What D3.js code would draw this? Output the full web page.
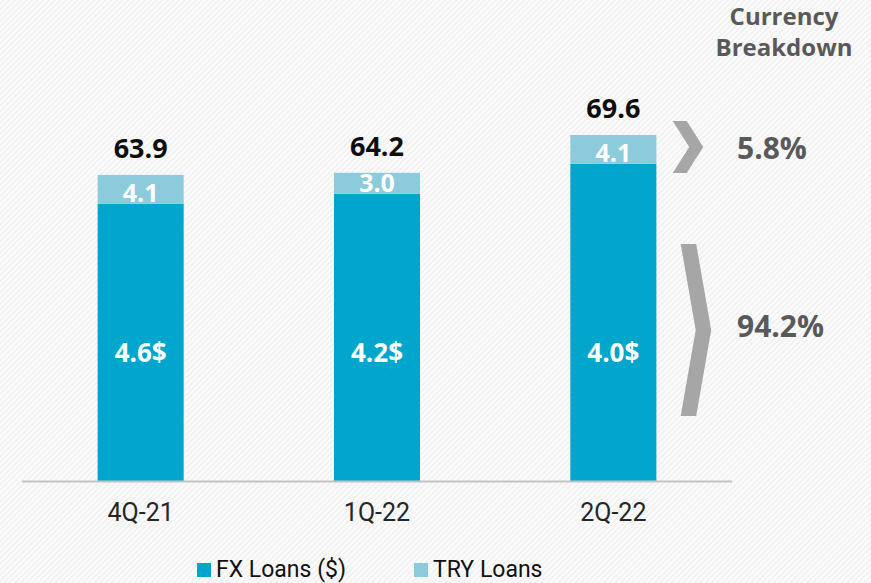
<!DOCTYPE html>
<html>

<head>
  <script src="https://d3js.org/d3.v7.min.js"></script>

  <style>
    body {
      margin: 0;
      background-color: #f3f3f3;
    }

    .num {
      font-family: "Open Sans", sans-serif;
      font-weight: 700;
    }

    .cat, .legend-text {
      font-family: Roboto, "Liberation Sans", sans-serif;
      font-weight: 400;
    }
  </style>

</head>

<body>
  <svg id="chart" width="871" height="583"></svg>

  <script>
    // chart data
    const quarters = ['4Q-21', '1Q-22', '2Q-22'];
    const fxLoans = [59.8, 61.2, 65.5];
    const tryLoans = [4.1, 3.0, 4.1];
    const totals = [63.9, 64.2, 69.6];
    const fxLabels = ['4.6$', '4.2$', '4.0$'];
    const breakdownLabels = ['5.8%', '94.2%'];
    const legendNames = ['FX Loans ($)', 'TRY Loans'];

    const width = 871, height = 583;
    const fxColor = '#02a6cd';
    const tryColor = '#8ccbdc';
    const greyText = '#595959';
    const chevronColor = '#a6a6a6';

    const svg = d3.select('#chart')
      .attr('viewBox', `0 0 ${width} ${height}`);

    // hatched background
    const defs = svg.append('defs');
    const pattern = defs.append('pattern')
      .attr('id', 'hatch')
      .attr('patternUnits', 'userSpaceOnUse')
      .attr('width', 4)
      .attr('height', 4)
      .attr('patternTransform', 'rotate(45)');
    pattern.append('rect')
      .attr('width', 4).attr('height', 4)
      .attr('fill', '#f2f2f2');
    pattern.append('rect')
      .attr('width', 1.6).attr('height', 4)
      .attr('fill', '#ffffff');

    svg.append('rect')
      .attr('width', width)
      .attr('height', height)
      .attr('fill', 'url(#hatch)');

    const x = d3.scaleBand()
      .domain(quarters)
      .range([22, 732])
      .paddingInner(0.636)
      .paddingOuter(0.32);

    // axis does not start at zero in the original
    const y = d3.scaleLinear()
      .domain([20.2, 69.6])
      .range([481, 135]);

    const base = y.domain()[0];

    const g = svg.append('g');

    // FX segments
    g.selectAll('.fx')
      .data(quarters)
      .enter()
      .append('rect')
      .attr('class', 'fx')
      .attr('x', d => x(d))
      .attr('width', x.bandwidth())
      .attr('y', (d, i) => y(fxLoans[i]))
      .attr('height', (d, i) => y(base) - y(fxLoans[i]))
      .attr('fill', fxColor);

    // TRY segments
    g.selectAll('.try')
      .data(quarters)
      .enter()
      .append('rect')
      .attr('class', 'try')
      .attr('x', d => x(d))
      .attr('width', x.bandwidth())
      .attr('y', (d, i) => y(fxLoans[i] + tryLoans[i]))
      .attr('height', (d, i) => y(fxLoans[i]) - y(fxLoans[i] + tryLoans[i]))
      .attr('fill', tryColor);

    // baseline
    svg.append('line')
      .attr('x1', x.range()[0])
      .attr('x2', x.range()[1])
      .attr('y1', y(base) + 0.5)
      .attr('y2', y(base) + 0.5)
      .attr('stroke', '#c3c3c3')
      .attr('stroke-width', 2);

    // TRY labels
    g.selectAll('.try-label')
      .data(quarters)
      .enter()
      .append('text')
      .attr('class', 'num')
      .attr('x', d => x(d) + x.bandwidth() / 2)
      .attr('y', (d, i) => y(fxLoans[i]) - 1.5)
      .attr('text-anchor', 'middle')
      .attr('fill', '#ffffff')
      .style('font-size', '25px')
      .text((d, i) => tryLoans[i].toFixed(1));

    // FX labels
    g.selectAll('.fx-label')
      .data(quarters)
      .enter()
      .append('text')
      .attr('class', 'num')
      .attr('x', d => x(d) + x.bandwidth() / 2)
      .attr('y', 362)
      .attr('text-anchor', 'middle')
      .attr('fill', '#ffffff')
      .style('font-size', '26px')
      .text((d, i) => fxLabels[i]);

    // totals on top
    g.selectAll('.total')
      .data(quarters)
      .enter()
      .append('text')
      .attr('class', 'num')
      .attr('x', d => x(d) + x.bandwidth() / 2)
      .attr('y', (d, i) => y(totals[i]) - 17)
      .attr('text-anchor', 'middle')
      .attr('fill', '#0d0d0d')
      .style('font-size', '27px')
      .text((d, i) => totals[i].toFixed(1));

    // category labels
    svg.selectAll('.cat')
      .data(quarters)
      .enter()
      .append('text')
      .attr('class', 'cat')
      .attr('x', d => x(d) + x.bandwidth() / 2)
      .attr('y', 521)
      .attr('text-anchor', 'middle')
      .attr('fill', '#262626')
      .style('font-size', '25px')
      .text(d => d);

    // legend
    const legend = svg.append('g');
    const legendX = [197, 414];
    const legendColors = [fxColor, tryColor];
    legendNames.forEach((name, i) => {
      legend.append('rect')
        .attr('x', legendX[i])
        .attr('y', 563)
        .attr('width', 14)
        .attr('height', 14)
        .attr('fill', legendColors[i]);
      legend.append('text')
        .attr('class', 'legend-text')
        .attr('x', legendX[i] + 19)
        .attr('y', 577)
        .attr('fill', '#111')
        .style('font-size', '23px')
        .text(name);
    });

    // currency breakdown header
    const header = svg.append('text')
      .attr('class', 'num')
      .attr('x', 784)
      .attr('text-anchor', 'middle')
      .attr('fill', greyText)
      .style('font-size', '24px');
    header.append('tspan').attr('x', 784).attr('y', 25).text('Currency');
    header.append('tspan').attr('x', 784).attr('y', 56).text('Breakdown');

    // chevrons
    function chevron(x0, cy, h, thick, depth) {
      const t = cy - h / 2, b = cy + h / 2;
      return [
        [x0, t], [x0 + thick, t], [x0 + thick + depth, cy],
        [x0 + thick, b], [x0, b], [x0 + depth, cy]
      ];
    }
    const chevrons = [
      chevron(672.7, 147, 52, 14, 16.5),
      chevron(680.7, 330, 172, 15.5, 15)
    ];
    svg.selectAll('.chev')
      .data(chevrons)
      .enter()
      .append('polygon')
      .attr('points', d => d.map(p => p.join(',')).join(' '))
      .attr('fill', chevronColor);

    const breakdownY = [159, 337];
    svg.selectAll('.pct')
      .data(breakdownLabels)
      .enter()
      .append('text')
      .attr('class', 'num')
      .attr('x', 737)
      .attr('y', (d, i) => breakdownY[i])
      .attr('fill', greyText)
      .style('font-size', '30px')
      .text(d => d);
  </script>
</body>
</html>
